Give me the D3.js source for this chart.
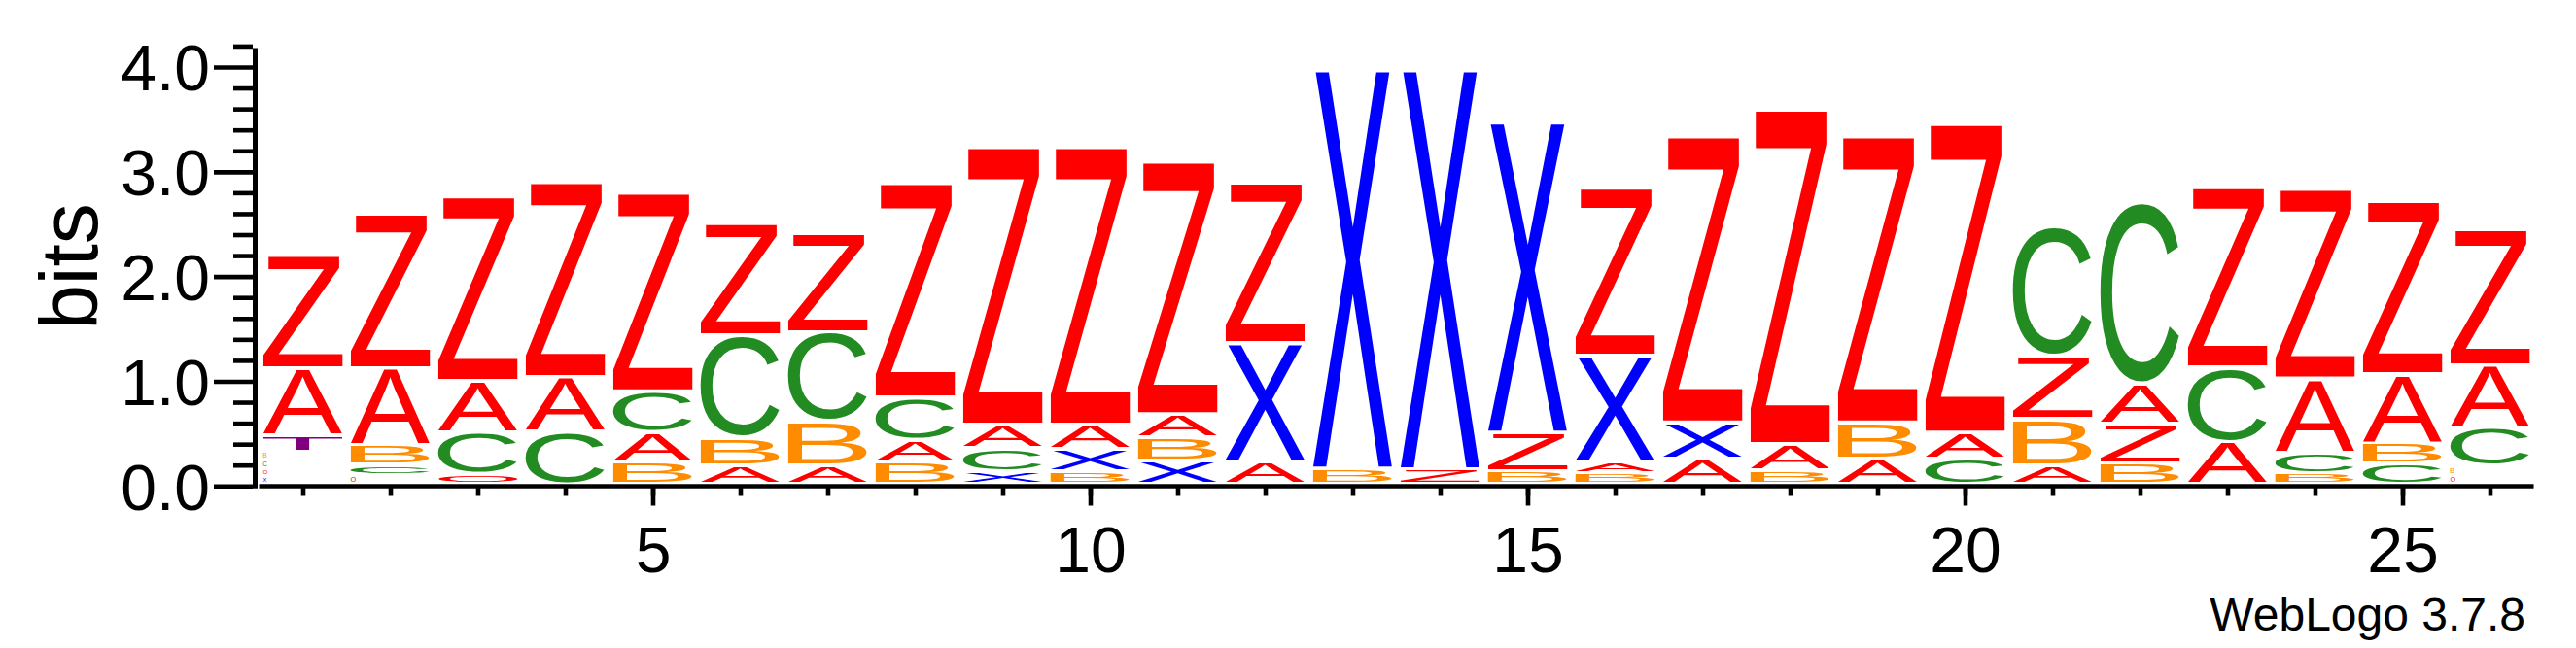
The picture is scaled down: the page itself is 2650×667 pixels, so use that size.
<!DOCTYPE html>
<html>
<head>
<meta charset="utf-8">
<script src="https://cdn.jsdelivr.net/npm/d3@7"></script>
<style>
  html, body { margin: 0; padding: 0; background: #ffffff; }
  svg { display: block; }
</style>
</head>
<body>
<svg id="chart" width="2650" height="667"></svg>
<script>
// ---------------- DATA ----------------
// sequence positions (x categories)
const positions = [1,2,3,4,5,6,7,8,9,10,11,12,13,14,15,16,17,18,19,20,21,22,23,24,25,26];

// letters of each stack, listed from top to bottom
const stackLetters = [
  "ZATBCOX", "ZABCO", "ZACO", "ZAC", "ZCAB", "ZCBA", "ZCBA", "ZCAB", "ZACX", "ZAXB",
  "ZABX", "ZXA", "XB", "XZ", "XZB", "ZXAB", "ZXA", "ZAB", "ZBA", "ZAC",
  "CZBA", "CAZB", "ZCA", "ZACB", "ZABC", "ZACBO"
];

// information content (bits) of each letter, same order as stackLetters
const stackBits = [
  [1.083, 0.643, 0.155, 0.080, 0.079, 0.077, 0.075],
  [1.472, 0.736, 0.186, 0.102, 0.086],
  [1.765, 0.489, 0.399, 0.098],
  [1.865, 0.519, 0.504],
  [1.902, 0.387, 0.288, 0.210],
  [1.073, 0.983, 0.263, 0.179],
  [0.949, 0.851, 0.420, 0.179],
  [2.050, 0.408, 0.212, 0.208],
  [2.656, 0.226, 0.222, 0.121],
  [2.656, 0.232, 0.216, 0.121],
  [2.417, 0.224, 0.223, 0.221],
  [1.540, 1.129, 0.219],
  [3.813, 0.148],
  [3.819, 0.142],
  [2.968, 0.365, 0.126],
  [1.611, 1.020, 0.106, 0.103],
  [2.737, 0.349, 0.241],
  [3.200, 0.248, 0.135],
  [2.737, 0.349, 0.241],
  [2.953, 0.247, 0.245],
  [1.231, 0.603, 0.445, 0.182],
  [1.732, 0.384, 0.380, 0.198],
  [1.723, 0.712, 0.404],
  [1.815, 0.705, 0.198, 0.105],
  [1.655, 0.659, 0.200, 0.195],
  [1.299, 0.603, 0.362, 0.087, 0.085]
];

const yMajorTicks = [0, 1, 2, 3, 4];
const yTickLabels = ["0.0", "1.0", "2.0", "3.0", "4.0"];
const yMinorTicks = [0.2,0.4,0.6,0.8,1.2,1.4,1.6,1.8,2.2,2.4,2.6,2.8,3.2,3.4,3.6,3.8,4.2];
const xMajorTicks = [5, 10, 15, 20, 25];
const yAxisTop = 4.18;
const yLabel = "bits";
const creditText = "WebLogo 3.7.8";

const letterColors = {
  A: "#ff0000", Z: "#ff0000", O: "#ff0000",
  B: "#ff8c00", C: "#228b22", X: "#0000ff", T: "#800080"
};

// ---------------- LAYOUT ----------------
const FONT = "'Liberation Sans', Arial, Helvetica, sans-serif";
const svg = d3.select("#chart");

const x = d3.scaleLinear().domain([0.5, 26.5]).range([266.5, 2606.5]);
const y = d3.scaleLinear().domain([0, 4]).range([500.3, 69]);
const band = x(1.5) - x(0.5);
const letterW = band * 0.907;
const gap = 4;

// ink metrics of glyphs
const ctx = document.createElement("canvas").getContext("2d");
ctx.font = `100px ${FONT}`;
const inkCache = {};
function ink(ch) {
  if (!inkCache[ch]) {
    const m = ctx.measureText(ch);
    inkCache[ch] = {
      left: -m.actualBoundingBoxLeft, right: m.actualBoundingBoxRight,
      top: -m.actualBoundingBoxAscent, bottom: m.actualBoundingBoxDescent
    };
  }
  return inkCache[ch];
}

// ---------------- LETTER STACKS ----------------
const glyphs = [];
positions.forEach((p, i) => {
  const letters = stackLetters[i].split("");
  const bits = stackBits[i];
  let cum = 0;
  for (let k = letters.length - 1; k >= 0; k--) {
    const h = bits[k];
    glyphs.push({ pos: p, ch: letters[k], lo: cum, hi: cum + h });
    cum += h;
  }
});

const gLetters = svg.append("g");
gLetters.selectAll("text.letter")
  .data(glyphs)
  .join("text")
  .attr("class", "letter")
  .attr("x", 0).attr("y", 0)
  .attr("font-family", FONT)
  .attr("font-size", 100)
  .attr("fill", d => letterColors[d.ch] || "#ff0000")
  .text(d => d.ch)
  .attr("transform", d => {
    const m = ink(d.ch);
    const top = y(d.hi);
    const box = y(d.lo) - y(d.hi);
    const gh = Math.max(1.2, box - gap);
    let x0, w;
    if (box < 10) {
      w = gh * (m.right - m.left) / (m.bottom - m.top);
      x0 = x(d.pos) - letterW / 2;
    } else {
      w = letterW;
      x0 = x(d.pos) - letterW / 2;
    }
    const sx = w / (m.right - m.left);
    const sy = gh / (m.bottom - m.top);
    return `translate(${x0},${top}) scale(${sx},${sy}) translate(${-m.left},${-m.top})`;
  });

// ---------------- AXES ----------------
const tickW = 4.6;

// Y axis
const gyMinor = svg.append("g").attr("transform", "translate(260,0)")
  .call(d3.axisLeft(y).tickValues(yMinorTicks).tickSize(20).tickFormat(""));
const gyMajor = svg.append("g").attr("transform", "translate(260,0)")
  .call(d3.axisLeft(y).tickValues(yMajorTicks).tickSize(40).tickPadding(4)
    .tickFormat((d, i) => yTickLabels[i]));
[gyMinor, gyMajor].forEach(g => {
  g.select(".domain").remove();
  g.selectAll(".tick line").attr("stroke", "#000").attr("stroke-width", tickW);
  g.selectAll(".tick text").attr("font-family", FONT).attr("font-size", 66)
    .attr("fill", "#000").attr("dy", "0.36em");
});
svg.append("line")
  .attr("x1", 262.5).attr("x2", 262.5)
  .attr("y1", y(yAxisTop)).attr("y2", 502.7)
  .attr("stroke", "#000").attr("stroke-width", 5);

// X axis
const xAxisY = 500.5;
const gxMinor = svg.append("g").attr("transform", `translate(0,${xAxisY})`)
  .call(d3.axisBottom(x).tickValues(positions).tickSize(10).tickFormat(""));
const gxMajor = svg.append("g").attr("transform", `translate(0,${xAxisY})`)
  .call(d3.axisBottom(x).tickValues(xMajorTicks).tickSize(20).tickPadding(21.6)
    .tickFormat(d3.format("d")));
[gxMinor, gxMajor].forEach(g => {
  g.select(".domain").remove();
  g.selectAll(".tick line").attr("stroke", "#000").attr("stroke-width", tickW);
  g.selectAll(".tick text").attr("font-family", FONT).attr("font-size", 66).attr("fill", "#000");
});
svg.append("line")
  .attr("x1", x.range()[0]).attr("x2", x.range()[1])
  .attr("y1", xAxisY).attr("y2", xAxisY)
  .attr("stroke", "#000").attr("stroke-width", 4.4);

// Y label
svg.append("text")
  .attr("transform", "translate(100,274.5) rotate(-90)")
  .attr("text-anchor", "middle")
  .attr("font-family", FONT)
  .attr("font-size", 84)
  .attr("fill", "#000")
  .text(yLabel);

// credit
svg.append("text")
  .attr("x", 2598).attr("y", 649)
  .attr("text-anchor", "end")
  .attr("font-family", FONT)
  .attr("font-size", 48)
  .attr("fill", "#000")
  .text(creditText);
</script>
</body>
</html>
